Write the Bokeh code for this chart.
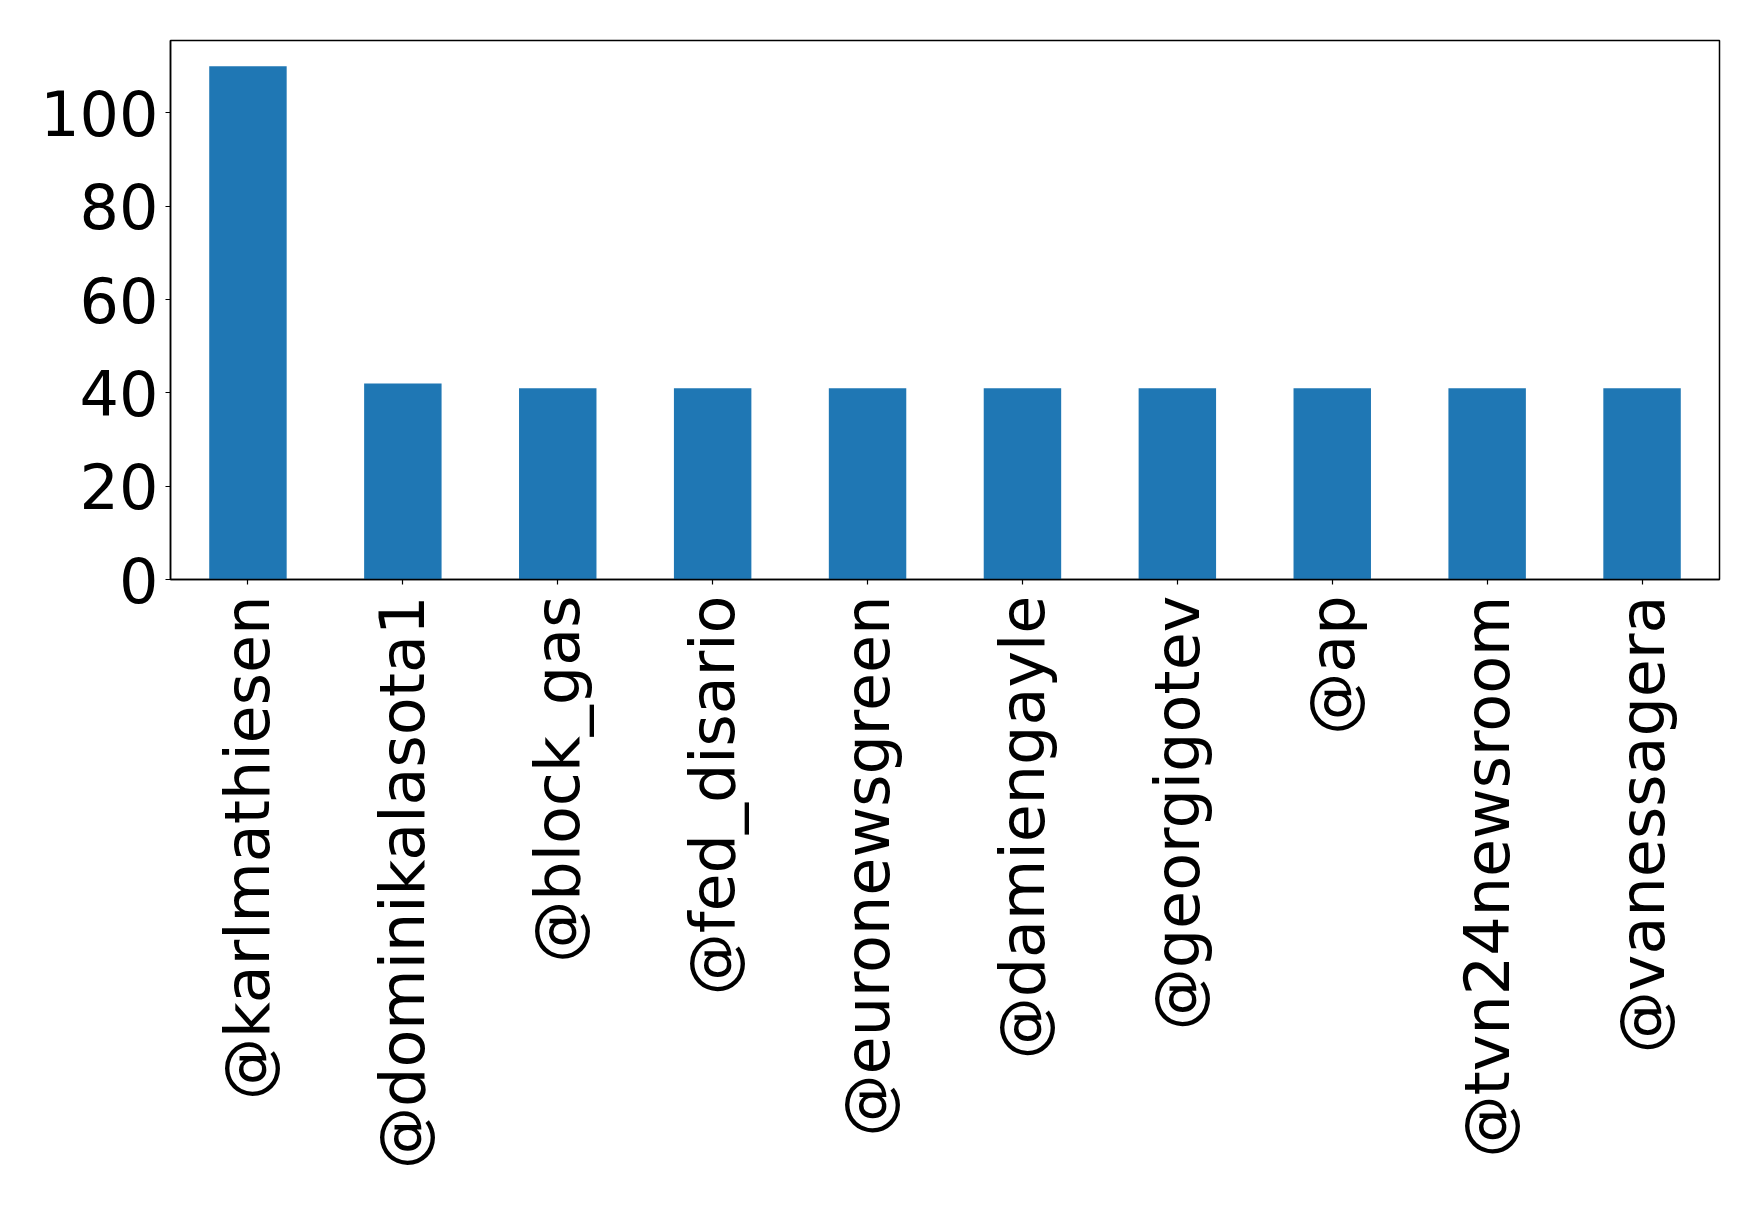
import math
from bokeh.plotting import figure
from bokeh.models import FactorRange, Range1d, FixedTicker, ColumnDataSource
from bokeh.embed import file_html
from bokeh.resources import INLINE

# Accounts and their counts
accounts = ["@karlmathiesen", "@dominikalasota1", "@block_gas", "@fed_disario",
            "@euronewsgreen", "@damiengayle", "@georgigotev", "@ap",
            "@tvn24newsroom", "@vanessagera"]
counts = [110, 42, 41, 41, 41, 41, 41, 41, 41, 41]
y_ticks = [0, 20, 40, 60, 80, 100]

source = ColumnDataSource(data=dict(account=accounts, count=counts))

p = figure(
    x_range=FactorRange(*accounts, range_padding=0),
    y_range=Range1d(0, max(counts) * 1.05),
    width=1758, height=1206,
    output_backend="svg", toolbar_location=None,
    min_border_left=170, min_border_right=39,
    min_border_top=40, min_border_bottom=627,
)

p.vbar(x="account", top="count", width=0.5, source=source,
       fill_color="#1f77b4", line_color=None)

p.grid.visible = False
p.outline_line_color = "black"
p.outline_line_width = 1.5
p.background_fill_color = "white"
p.border_fill_color = "white"

for ax in (p.xaxis[0], p.yaxis[0]):
    ax.axis_line_color = "black"
    ax.axis_line_width = 1.5
    ax.major_tick_out = 5
    ax.major_tick_in = 0
    ax.major_tick_line_width = 1.2
    ax.minor_tick_line_color = None
    ax.major_label_text_font = "DejaVu Sans"
    ax.major_label_text_font_size = "62px"
    ax.major_label_text_color = "black"

p.yaxis[0].ticker = FixedTicker(ticks=y_ticks)
p.yaxis[0].major_label_standoff = 7
p.xaxis[0].major_label_orientation = math.pi / 2
p.xaxis[0].major_label_standoff = 11

open("out.html", "w").write(file_html(p, INLINE))
